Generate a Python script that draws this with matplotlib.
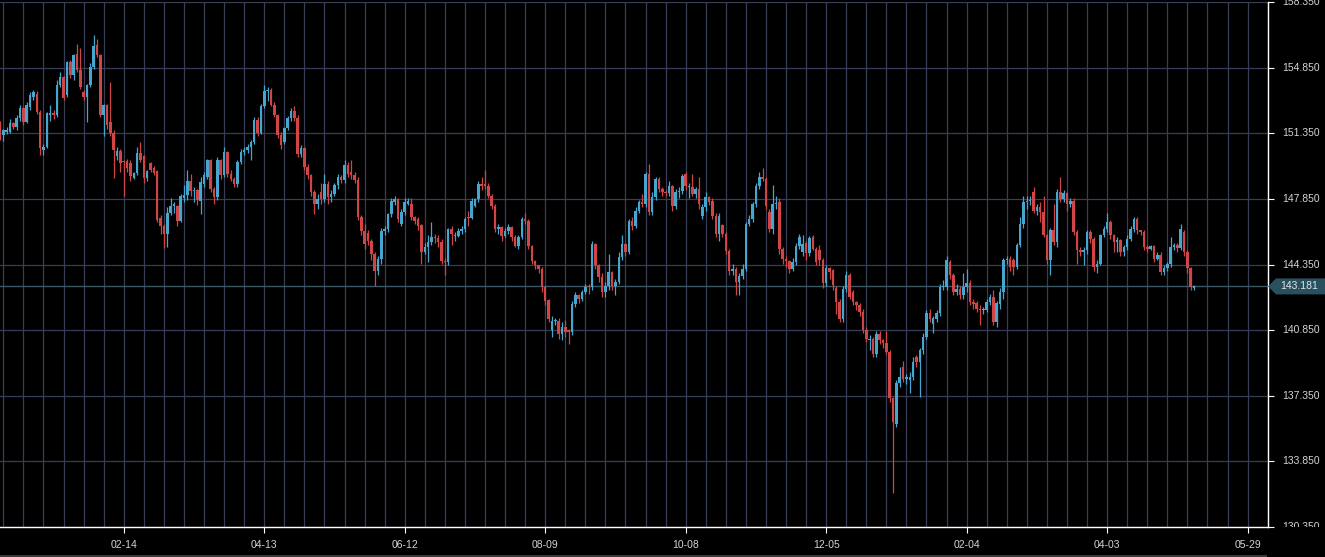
import matplotlib
matplotlib.use("Agg")
import matplotlib.pyplot as plt
from matplotlib import transforms
from matplotlib.patches import Polygon, Rectangle
import numpy as np

# daily OHLC, oldest first
opens = [
    151.88, 151.26, 151.44, 151.44, 151.88, 151.70, 152.14, 152.68, 151.97, 152.76,
    153.29, 153.47, 152.50, 150.46, 150.64, 152.32, 152.41, 152.32, 153.91, 154.35,
    153.38, 155.15, 154.44, 155.59, 154.71, 153.56, 153.29, 153.91, 154.89, 156.03,
    155.50, 152.32, 152.85, 151.97, 151.35, 150.11, 150.38, 149.85, 149.85, 149.76,
    148.96, 149.23, 150.29, 150.11, 148.96, 149.76, 149.49, 149.32, 146.84, 146.40,
    145.96, 147.11, 147.46, 147.46, 146.66, 147.90, 148.08, 148.79, 148.26, 148.34,
    147.76, 148.66, 149.02, 149.91, 148.39, 147.94, 149.91, 149.11, 150.36, 149.20,
    148.93, 148.66, 149.82, 150.36, 150.45, 150.63, 150.90, 152.07, 151.35, 152.79,
    153.59, 153.68, 152.88, 152.34, 151.26, 150.90, 151.62, 152.16, 152.52, 152.16,
    150.27, 150.54, 149.55, 149.11, 148.21, 147.58, 148.21, 147.85, 148.66, 147.94,
    148.12, 148.57, 149.02, 148.84, 149.64, 149.29, 149.11, 148.84, 146.86, 146.14,
    146.05, 145.61, 144.89, 143.99, 144.62, 146.14, 146.23, 147.04, 147.67, 147.85,
    146.52, 147.14, 147.58, 147.58, 146.87, 146.78, 146.43, 145.00, 145.27, 145.54,
    145.81, 145.77, 145.54, 144.56, 144.47, 146.25, 145.89, 145.89, 146.16, 146.25,
    146.87, 146.85, 147.49, 147.85, 148.65, 148.65, 148.56, 148.03, 147.49, 146.25,
    146.34, 145.89, 146.16, 146.34, 145.81, 145.36, 145.81, 146.78, 146.66, 145.36,
    144.56, 144.30, 144.12, 143.14, 142.43, 140.83, 141.36, 141.36, 140.65, 141.01,
    140.83, 140.74, 142.25, 142.70, 142.52, 142.87, 143.23, 143.14, 145.45, 144.30,
    143.67, 142.87, 143.23, 143.94, 143.23, 143.41, 144.74, 145.45, 145.00, 146.67,
    146.43, 147.23, 147.67, 147.58, 149.18, 147.14, 147.94, 148.92, 148.38, 148.21,
    148.15, 148.56, 147.49, 148.21, 148.29, 149.18, 148.47, 148.47, 148.12, 148.38,
    146.96, 147.41, 147.94, 147.76, 146.96, 145.98, 146.43, 145.98, 145.09, 144.03,
    144.12, 143.41, 143.76, 144.12, 146.52, 146.78, 147.58, 148.56, 149.00, 148.92,
    147.14, 146.25, 147.58, 147.67, 145.18, 144.65, 144.56, 144.12, 144.47, 145.36,
    145.03, 145.47, 144.94, 145.82, 145.20, 145.11, 144.58, 143.34, 144.14, 144.05,
    143.07, 142.36, 141.47, 143.07, 143.78, 142.89, 142.36, 142.18, 141.83, 140.85,
    140.32, 140.40, 139.60, 140.67, 140.32, 140.14, 139.70, 137.21, 135.87, 138.01,
    138.89, 138.27, 138.18, 138.36, 139.43, 139.16, 139.78, 140.49, 141.74, 141.20,
    141.47, 141.74, 143.16, 143.16, 144.49, 143.78, 142.89, 143.07, 142.71, 143.16,
    143.34, 142.36, 142.27, 142.00, 141.92, 141.92, 142.36, 142.63, 141.29, 142.27,
    142.89, 144.58, 144.67, 144.58, 144.23, 145.38, 146.52, 147.67, 147.73, 148.20,
    147.23, 147.44, 147.14, 145.90, 144.58, 146.17, 145.55, 148.20, 147.85, 148.15,
    147.58, 147.76, 146.08, 145.11, 145.02, 145.11, 146.08, 145.73, 144.23, 144.40,
    145.90, 146.26, 146.61, 145.90, 145.55, 145.64, 145.02, 145.29, 145.73, 146.26,
    146.79, 146.17, 146.08, 145.29, 145.20, 145.32, 144.67, 144.84, 143.96, 144.14,
    144.37, 145.29, 145.38, 145.25, 146.08, 145.02, 144.14, 143.10,
]
highs = [
    152.00, 151.60, 151.70, 152.10, 151.97, 152.30, 152.85, 152.76, 153.00, 153.56,
    153.65, 153.60, 152.60, 150.80, 152.50, 152.85, 152.60, 154.20, 154.60, 154.40,
    155.20, 155.25, 155.60, 156.10, 155.90, 153.65, 154.00, 155.10, 156.60, 156.40,
    155.60, 152.90, 152.90, 154.10, 151.50, 150.60, 150.50, 149.90, 150.00, 149.90,
    149.30, 150.60, 150.90, 150.20, 149.40, 149.80, 149.60, 149.40, 147.00, 146.50,
    147.40, 147.90, 147.70, 147.55, 148.10, 148.60, 149.40, 149.20, 148.50, 148.40,
    149.00, 149.30, 150.00, 150.00, 148.50, 150.10, 150.00, 150.60, 150.40, 149.40,
    149.00, 149.90, 150.50, 150.60, 150.80, 151.00, 152.20, 152.20, 152.90, 153.90,
    153.80, 153.75, 153.00, 152.40, 151.40, 151.70, 152.25, 152.70, 152.80, 152.30,
    150.70, 150.60, 149.70, 149.20, 148.30, 148.10, 148.70, 149.20, 148.80, 148.30,
    148.70, 149.20, 149.10, 149.90, 149.80, 149.90, 149.30, 149.00, 147.00, 146.50,
    146.20, 145.70, 145.00, 144.80, 146.30, 146.40, 147.10, 147.90, 148.00, 147.90,
    147.30, 147.90, 147.90, 147.90, 146.95, 146.90, 146.50, 145.50, 145.90, 146.60,
    146.00, 145.90, 145.70, 144.70, 146.30, 146.40, 146.10, 146.30, 146.40, 146.90,
    147.20, 147.90, 147.90, 148.80, 149.00, 149.40, 148.70, 148.10, 147.60, 146.50,
    146.40, 146.30, 146.50, 146.40, 145.90, 145.90, 146.90, 147.10, 146.80, 145.40,
    144.60, 144.30, 144.20, 143.20, 142.50, 141.60, 141.50, 141.50, 141.30, 141.40,
    140.90, 142.40, 142.90, 142.80, 143.00, 143.30, 143.30, 145.60, 145.50, 144.40,
    143.90, 143.40, 144.90, 144.00, 143.60, 145.00, 145.90, 145.50, 146.80, 146.90,
    147.40, 147.80, 148.10, 149.30, 149.70, 148.20, 149.00, 149.00, 148.50, 148.30,
    148.80, 148.60, 148.40, 148.50, 149.20, 149.30, 148.70, 149.20, 148.50, 149.00,
    147.60, 148.20, 148.00, 147.90, 147.10, 147.10, 146.50, 146.10, 145.20, 144.40,
    144.20, 143.90, 144.40, 146.60, 147.00, 147.70, 148.70, 149.30, 149.50, 149.00,
    147.30, 148.60, 148.00, 147.90, 145.30, 144.80, 144.60, 144.70, 145.50, 146.00,
    145.90, 145.60, 145.85, 145.90, 145.30, 145.40, 144.70, 144.30, 144.20, 144.10,
    143.20, 142.50, 143.20, 144.00, 143.90, 143.00, 142.40, 142.30, 142.00, 141.00,
    140.60, 140.50, 140.80, 140.80, 140.40, 140.80, 139.80, 137.30, 138.20, 138.90,
    139.20, 138.50, 138.60, 139.40, 139.50, 139.90, 140.70, 141.90, 142.00, 141.60,
    141.90, 143.30, 143.50, 144.80, 144.60, 143.90, 143.30, 143.20, 143.90, 144.10,
    143.50, 142.50, 142.40, 142.20, 142.10, 142.50, 142.80, 143.00, 142.40, 143.10,
    144.70, 144.80, 144.80, 144.70, 145.50, 146.90, 148.00, 148.00, 148.00, 148.50,
    147.60, 147.70, 148.00, 146.00, 146.30, 147.60, 148.40, 149.00, 148.30, 148.20,
    147.90, 147.90, 146.20, 145.30, 145.30, 146.20, 146.20, 145.80, 144.60, 146.00,
    146.40, 147.10, 146.70, 146.00, 145.80, 145.70, 145.40, 145.90, 146.40, 146.90,
    146.90, 146.20, 146.20, 145.40, 145.40, 145.40, 145.00, 145.00, 144.30, 144.50,
    145.80, 145.50, 145.50, 146.50, 146.20, 145.10, 144.20, 143.25,
]
lows = [
    151.00, 150.95, 151.30, 151.35, 151.60, 151.50, 152.00, 151.80, 151.90, 152.60,
    153.10, 152.40, 150.20, 150.20, 150.55, 152.00, 152.10, 152.20, 153.80, 153.10,
    153.30, 154.30, 154.20, 154.60, 153.70, 153.10, 151.97, 153.80, 154.80, 155.40,
    152.20, 151.20, 151.60, 151.20, 148.96, 149.90, 149.30, 148.00, 149.30, 148.80,
    148.90, 149.10, 149.80, 148.70, 148.80, 149.30, 149.10, 146.60, 146.00, 145.25,
    145.30, 147.00, 147.10, 146.40, 146.60, 147.70, 147.80, 148.00, 147.70, 147.50,
    147.04, 148.50, 148.90, 148.20, 147.60, 147.80, 148.90, 149.00, 149.00, 148.80,
    148.50, 148.50, 149.70, 150.20, 150.30, 149.90, 150.80, 151.20, 151.30, 152.70,
    153.06, 152.80, 152.20, 151.10, 150.50, 150.80, 151.50, 152.00, 152.00, 150.10,
    150.10, 149.40, 148.90, 148.00, 147.04, 147.30, 147.60, 147.70, 147.60, 147.70,
    148.00, 148.40, 148.70, 148.70, 149.00, 148.90, 148.70, 146.70, 145.90, 145.20,
    145.40, 144.60, 143.20, 143.80, 144.40, 145.90, 146.10, 146.90, 147.50, 146.60,
    146.40, 147.00, 147.50, 146.70, 146.50, 146.20, 144.40, 144.90, 144.50, 145.40,
    145.50, 145.30, 144.40, 143.80, 144.30, 145.40, 145.60, 145.80, 146.00, 146.10,
    146.40, 146.80, 147.40, 147.70, 148.30, 148.40, 147.90, 147.30, 146.10, 146.00,
    145.60, 145.80, 146.00, 145.60, 145.30, 145.20, 145.70, 146.50, 145.20, 144.40,
    144.10, 143.90, 142.90, 142.20, 141.30, 140.50, 141.10, 140.40, 140.30, 140.50,
    140.10, 140.60, 142.10, 142.30, 142.40, 142.80, 142.80, 143.00, 144.10, 143.40,
    142.60, 142.60, 143.00, 143.00, 142.70, 143.30, 144.60, 144.80, 144.90, 146.20,
    146.30, 147.10, 147.40, 147.40, 147.00, 147.00, 147.80, 148.20, 148.00, 148.00,
    148.00, 147.20, 147.30, 147.90, 148.10, 148.30, 147.90, 148.00, 147.90, 147.30,
    146.80, 147.20, 147.50, 146.80, 145.80, 145.60, 145.80, 144.90, 143.80, 143.80,
    142.70, 142.70, 143.60, 144.00, 146.40, 146.60, 147.40, 148.40, 148.80, 147.30,
    146.10, 146.00, 147.30, 144.90, 144.40, 144.20, 143.90, 144.00, 144.30, 145.20,
    144.80, 144.60, 144.80, 145.10, 144.30, 144.30, 143.10, 143.20, 143.60, 143.00,
    141.70, 141.30, 141.30, 142.90, 142.50, 142.20, 141.90, 141.60, 140.70, 140.20,
    139.80, 139.40, 139.40, 140.10, 139.90, 139.60, 137.00, 132.14, 135.70, 137.80,
    138.10, 138.00, 137.50, 138.20, 138.90, 137.30, 139.60, 140.40, 141.30, 140.70,
    141.30, 141.60, 143.00, 143.00, 143.60, 142.70, 142.70, 142.50, 142.50, 142.90,
    142.20, 142.00, 141.80, 141.10, 141.70, 141.80, 142.20, 141.10, 141.00, 142.00,
    142.50, 144.40, 144.00, 143.80, 144.10, 145.30, 146.30, 147.30, 147.50, 147.10,
    147.00, 146.60, 145.80, 144.40, 143.80, 145.40, 145.30, 147.70, 147.70, 147.20,
    147.40, 145.90, 144.40, 144.80, 144.30, 144.90, 145.50, 144.00, 143.90, 144.30,
    145.80, 146.10, 145.70, 145.00, 145.00, 144.80, 144.80, 145.10, 145.60, 146.10,
    146.00, 145.90, 145.10, 145.00, 145.10, 144.50, 144.60, 143.80, 143.80, 144.00,
    144.20, 145.10, 145.00, 145.10, 144.80, 143.90, 143.00, 142.98,
]
closes = [
    151.17, 151.53, 151.53, 151.88, 151.70, 152.14, 152.68, 151.97, 152.85, 153.38,
    153.56, 152.50, 150.55, 150.64, 152.41, 152.41, 152.32, 153.91, 154.35, 153.21,
    155.15, 154.44, 155.50, 154.71, 153.82, 153.29, 153.91, 154.89, 156.03, 155.50,
    152.32, 152.85, 151.79, 151.35, 150.46, 150.38, 149.76, 149.80, 149.49, 149.05,
    149.23, 150.29, 149.93, 148.96, 149.32, 149.40, 149.23, 146.75, 146.40, 145.96,
    147.11, 147.46, 147.55, 146.66, 148.00, 148.08, 148.79, 148.26, 148.34, 147.81,
    148.75, 149.11, 149.91, 148.39, 147.94, 149.91, 149.11, 150.36, 149.20, 148.93,
    148.66, 149.82, 150.36, 150.45, 150.63, 150.90, 152.07, 151.35, 152.79, 153.59,
    153.68, 152.88, 152.34, 151.26, 150.72, 151.62, 152.16, 152.52, 152.16, 150.27,
    150.54, 149.55, 149.11, 148.21, 147.58, 147.85, 147.85, 148.66, 147.94, 148.12,
    148.57, 149.02, 148.84, 149.64, 149.20, 149.11, 148.84, 146.86, 146.14, 145.43,
    145.61, 144.89, 143.99, 144.62, 146.14, 146.23, 147.04, 147.76, 147.85, 146.77,
    147.14, 147.67, 147.76, 146.87, 146.67, 146.43, 145.00, 145.27, 145.54, 145.81,
    145.77, 145.54, 144.56, 144.47, 146.25, 145.99, 145.90, 146.16, 146.25, 146.78,
    146.85, 147.76, 147.85, 148.65, 148.56, 148.56, 148.03, 147.49, 146.25, 146.34,
    145.89, 146.16, 146.34, 145.81, 145.36, 145.81, 146.78, 146.66, 145.36, 144.56,
    144.30, 144.12, 143.14, 142.43, 141.45, 141.36, 141.36, 140.65, 141.01, 140.74,
    140.74, 142.25, 142.70, 142.52, 142.87, 143.14, 143.14, 145.45, 144.30, 143.67,
    142.87, 143.23, 143.94, 143.23, 143.41, 144.74, 145.45, 145.00, 146.67, 146.43,
    147.23, 147.67, 147.58, 149.18, 147.14, 147.94, 148.92, 148.38, 148.21, 148.15,
    148.56, 147.49, 148.21, 148.29, 149.09, 148.56, 148.56, 148.12, 148.38, 147.58,
    147.41, 147.94, 147.67, 146.96, 145.98, 146.96, 145.98, 145.09, 144.03, 144.12,
    143.41, 143.76, 144.12, 146.52, 146.78, 147.58, 148.56, 149.00, 148.92, 147.49,
    146.25, 147.58, 147.62, 145.18, 144.65, 144.56, 144.12, 144.47, 145.36, 145.81,
    145.47, 144.94, 145.74, 145.20, 144.49, 144.58, 143.34, 144.14, 143.96, 143.25,
    142.36, 141.47, 143.07, 143.78, 142.63, 142.36, 142.18, 141.83, 140.85, 140.40,
    140.40, 139.60, 140.67, 140.32, 140.14, 139.70, 137.21, 135.96, 138.01, 138.36,
    138.27, 138.36, 138.36, 139.16, 139.16, 139.78, 140.49, 141.74, 141.47, 141.47,
    141.74, 143.16, 143.16, 144.58, 143.78, 142.89, 143.07, 142.71, 143.16, 143.34,
    142.36, 142.27, 142.00, 141.92, 141.92, 142.36, 142.63, 141.29, 142.27, 142.89,
    144.58, 144.67, 144.23, 144.23, 145.38, 146.52, 147.67, 147.73, 147.76, 147.23,
    147.44, 147.14, 145.90, 144.58, 146.17, 145.55, 148.20, 147.85, 148.15, 147.58,
    147.76, 146.08, 145.11, 145.02, 145.11, 146.08, 145.73, 144.23, 144.40, 145.90,
    146.26, 146.61, 145.90, 145.55, 145.64, 145.02, 145.29, 145.73, 146.26, 146.79,
    146.17, 146.08, 145.29, 145.20, 145.32, 144.67, 144.84, 143.96, 144.14, 144.37,
    145.29, 145.38, 145.25, 146.26, 145.02, 144.14, 143.17, 143.181,
]

date_labels = ["02-14", "04-13", "06-12", "08-09", "10-08", "12-05", "02-04", "04-03", "05-29"]
price_ticks = [130.35, 133.85, 137.35, 140.85, 144.35, 147.85, 151.35, 154.85, 158.35]
last_price = 143.181

UP = "#45a6cf"
DOWN = "#d04646"
GRID = "#383e58"
TXT = "#d4d4d4"
FONT = "Liberation Sans"

o = np.array(opens)
h = np.array(highs)
l = np.array(lows)
c = np.array(closes)
x = np.arange(len(c))
cols = np.where(c >= o, UP, DOWN)

W, H = 1325, 557
fig = plt.figure(figsize=(W / 100, H / 100), dpi=100, facecolor="black")
ax = fig.add_axes([0, 30 / H, 1268 / W, 525 / H], facecolor="black")

# grid: every 6 bars, labels every 42 bars
ax.set_xticks(np.arange(1, 380, 6), minor=True)
ax.set_xticks(37 + 42 * np.arange(len(date_labels)))
ax.set_xticklabels(date_labels, color=TXT, fontsize=7.5, family=FONT)
ax.set_yticks(price_ticks)
ax.grid(True, which="both", color=GRID, lw=0.9)
ax.set_axisbelow(True)

ax.vlines(x, l, h, colors=cols, lw=0.9, zorder=2)
body = np.maximum(np.abs(c - o), 0.04)
ax.bar(x, body, bottom=np.minimum(o, c), width=0.76, color=cols, lw=0, zorder=3)

ax.axhline(last_price, color="#3b5866", lw=1, zorder=1.5)

ax.set_xlim(0, 379.1)
ax.set_ylim(130.35, 158.35)

for s in ["top", "left"]:
    ax.spines[s].set_visible(False)
for s in ["right", "bottom"]:
    ax.spines[s].set_color("white")
    ax.spines[s].set_linewidth(1.0)
ax.yaxis.tick_right()
ax.tick_params(axis="y", which="major", length=4, color="white", labelright=False, labelleft=False)
ax.tick_params(axis="x", which="major", length=4, color="white", pad=5)
ax.tick_params(axis="x", which="minor", length=0)

# right-hand price labels, clipped to the plot's vertical range
blend = transforms.blended_transform_factory(fig.transFigure, ax.transData)
clip = transforms.TransformedBbox(transforms.Bbox([[1268 / W, 30 / H], [1, 1]]), fig.transFigure)
for p in price_ticks:
    t = ax.text(1282 / W, p, f"{p:.3f}", transform=blend, ha="left", va="center",
                color=TXT, fontsize=7.5, family=FONT, clip_on=True)
    t.set_clip_box(clip)

# last price tag
dh = 8 / (525 / 28.0)
tag = Polygon([[1268 / W, last_price], [1276 / W, last_price + dh], [1.0, last_price + dh],
               [1.0, last_price - dh], [1276 / W, last_price - dh]],
              closed=True, transform=blend, facecolor="#28505f", edgecolor="none", clip_on=False)
fig.add_artist(tag)
fig.text(1299 / W, last_price, f"{last_price:.3f}", transform=blend, ha="center", va="center",
         color="#e0e6ea", fontsize=7.5, family=FONT, zorder=5)

# thin scroller strip under the chart
fig.add_artist(Rectangle((0, 0), 1267 / W, 2 / H, transform=fig.transFigure,
                         facecolor="#3a3a3a", edgecolor="none"))

fig.savefig("out.png", dpi=100, facecolor="black")
